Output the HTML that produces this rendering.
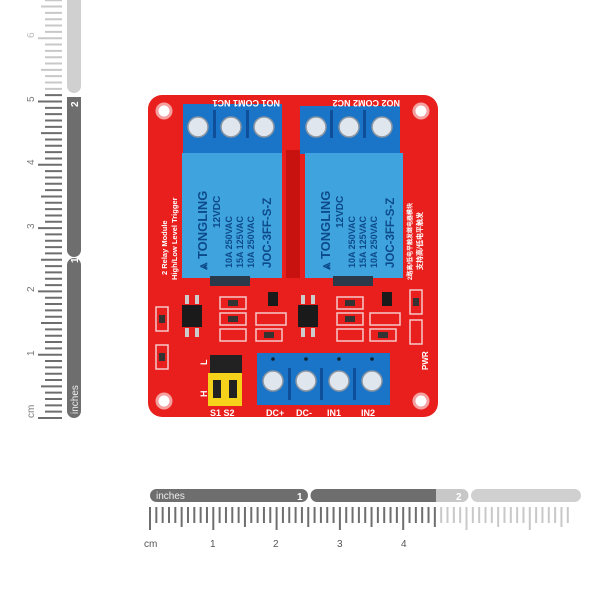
<!DOCTYPE html>
<html><head><meta charset="utf-8"><style>
html,body{margin:0;padding:0;background:#fff;width:613px;height:613px;overflow:hidden}
svg{display:block}
text{font-family:"Liberation Sans",sans-serif}
</style></head><body>
<svg id="s" width="613" height="613" viewBox="0 0 613 613" xmlns="http://www.w3.org/2000/svg">
<rect width="613" height="613" fill="#fff"/>
<rect x="150" y="489" width="158" height="13" rx="6.5" fill="#6e6e6e"/>
<text x="156" y="499" font-size="10" fill="#eee">inches</text>
<text x="297" y="500" font-size="10" font-weight="bold" fill="#fff">1</text>
<path d="M317,489 H436 V502 H317 A6.5,6.5 0 0 1 317,489Z" fill="#6e6e6e"/>
<path d="M436,489 H462 A6.5,6.5 0 0 1 462,502 H436Z" fill="#c8c8c8"/>
<text x="456" y="500" font-size="10" font-weight="bold" fill="#fff">2</text>
<rect x="471" y="489" width="110" height="13" rx="6.5" fill="#d0d0d0"/>
<g font-size="10" fill="#555">
<text x="144" y="547">cm</text><text x="210" y="547">1</text><text x="273" y="547">2</text><text x="337" y="547">3</text><text x="401" y="547">4</text>
</g>
<rect x="67" y="258" width="14" height="160" rx="7" fill="#6e6e6e"/>
<text transform="translate(78,414) rotate(-90)" font-size="10" fill="#eee">inches</text>
<text transform="translate(78,263) rotate(-90)" font-size="10" font-weight="bold" fill="#fff">1</text>
<path d="M67,250 V97 H81 V250 A7,7 0 0 1 67,250Z" fill="#6e6e6e"/>
<text transform="translate(78,107) rotate(-90)" font-size="10" font-weight="bold" fill="#fff">2</text>
<rect x="67" y="-20" width="14" height="113" rx="7" fill="#d0d0d0"/>
<g font-size="10" fill="#777">
<text transform="translate(34,418) rotate(-90)">cm</text>
<text transform="translate(34,356) rotate(-90)">1</text>
<text transform="translate(34,292) rotate(-90)">2</text>
<text transform="translate(34,229) rotate(-90)">3</text>
<text transform="translate(34,165) rotate(-90)">4</text>
<text transform="translate(34,102) rotate(-90)">5</text>
<text transform="translate(34,38) rotate(-90)" fill="#bbb">6</text>
</g>
<g id="ticks"></g>

<rect x="148" y="95" width="290" height="322" rx="14" fill="#e81f1c"/>
<g fill="#fff" stroke="#f4a0a0" stroke-width="3">
<circle cx="164" cy="111" r="7"/><circle cx="421" cy="111" r="7"/>
<circle cx="164" cy="401" r="7"/><circle cx="421" cy="401" r="7"/>
</g>
<rect x="286" y="150" width="14" height="128" fill="#c81210"/>
<g>
<rect x="183" y="104" width="99" height="50" fill="#1a74c8"/>
<rect x="300" y="106" width="100" height="48" fill="#1a74c8"/>
<g fill="#0f4f99"><rect x="213" y="110" width="3" height="28"/><rect x="246" y="110" width="3" height="28"/><rect x="330" y="110" width="3" height="28"/><rect x="363" y="110" width="3" height="28"/></g>
<g fill="#dfe6ee" stroke="#8a95a2" stroke-width="1.5">
<circle cx="198" cy="127" r="10"/><circle cx="231" cy="127" r="10"/><circle cx="264" cy="127" r="10"/>
<circle cx="316" cy="127" r="10"/><circle cx="349" cy="127" r="10"/><circle cx="382" cy="127" r="10"/>
</g>
</g>
<g font-size="9" font-weight="bold" fill="#fff">
<text transform="translate(280,100) rotate(180)">NO1 COM1 NC1</text>
<text transform="translate(400,100) rotate(180)">NO2 COM2 NC2</text>
</g>
<rect x="182" y="153" width="100" height="125" fill="#3fa3de"/>
<rect x="305" y="153" width="98" height="125" fill="#3fa3de"/>
<rect x="210" y="276" width="40" height="10" fill="#2a3a4a"/>
<rect x="333" y="276" width="40" height="10" fill="#2a3a4a"/>
<g fill="#0d4a8a" font-weight="bold">
<text transform="translate(207,270) rotate(-90)" font-size="13">⩓ TONGLING</text>
<text transform="translate(220,228) rotate(-90)" font-size="10">12VDC</text>
<text transform="translate(232,268) rotate(-90)" font-size="9">10A 250VAC</text>
<text transform="translate(243,268) rotate(-90)" font-size="9">15A 125VAC</text>
<text transform="translate(254,268) rotate(-90)" font-size="9">10A 250VAC</text>
<text transform="translate(271,268) rotate(-90)" font-size="11.5">JOC-3FF-S-Z</text>
<text transform="translate(330,270) rotate(-90)" font-size="13">⩓ TONGLING</text>
<text transform="translate(343,228) rotate(-90)" font-size="10">12VDC</text>
<text transform="translate(355,268) rotate(-90)" font-size="9">10A 250VAC</text>
<text transform="translate(366,268) rotate(-90)" font-size="9">15A 125VAC</text>
<text transform="translate(377,268) rotate(-90)" font-size="9">10A 250VAC</text>
<text transform="translate(394,268) rotate(-90)" font-size="11.5">JOC-3FF-S-Z</text>
</g>
<g fill="#fff" font-size="7.5" font-weight="bold">
<text transform="translate(167,275) rotate(-90)">2 Relay Module</text>
<text transform="translate(177,280) rotate(-90)">High/Low Level Trigger</text>
<text transform="translate(412,280) rotate(-90)" font-family="Noto Sans CJK SC,sans-serif" font-size="6">2路高/低电平触发继电器模块</text>
<text transform="translate(422,270) rotate(-90)" font-family="Noto Sans CJK SC,sans-serif" font-size="7">支持高/低电平触发</text>
<text transform="translate(428,370) rotate(-90)" font-size="8">PWR</text>
</g>
<g fill="#1a1a1a">
<rect x="182" y="305" width="20" height="22"/><rect x="298" y="305" width="20" height="22"/>
<rect x="268" y="292" width="10" height="14"/><rect x="382" y="292" width="10" height="14"/>
</g>
<g fill="#ccc"><rect x="185" y="295" width="4" height="9"/><rect x="195" y="295" width="4" height="9"/><rect x="185" y="328" width="4" height="9"/><rect x="195" y="328" width="4" height="9"/>
<rect x="301" y="295" width="4" height="9"/><rect x="311" y="295" width="4" height="9"/><rect x="301" y="328" width="4" height="9"/><rect x="311" y="328" width="4" height="9"/></g>
<g fill="#e81f1c" stroke="#f6c9c9" stroke-width="1.5">
<rect x="220" y="297" width="26" height="12"/><rect x="220" y="313" width="26" height="12"/><rect x="220" y="329" width="26" height="12"/>
<rect x="256" y="313" width="30" height="12"/><rect x="256" y="329" width="26" height="12"/>
<rect x="337" y="297" width="26" height="12"/><rect x="337" y="313" width="26" height="12"/><rect x="337" y="329" width="26" height="12"/>
<rect x="370" y="313" width="30" height="12"/><rect x="370" y="329" width="26" height="12"/>
<rect x="156" y="307" width="12" height="24"/><rect x="156" y="345" width="12" height="24"/>
<rect x="410" y="290" width="12" height="24"/><rect x="410" y="320" width="12" height="24"/>
</g>
<g fill="#333"><rect x="228" y="300" width="10" height="6"/><rect x="228" y="316" width="10" height="6"/><rect x="264" y="332" width="10" height="6"/>
<rect x="345" y="300" width="10" height="6"/><rect x="345" y="316" width="10" height="6"/><rect x="378" y="332" width="10" height="6"/>
<rect x="159" y="315" width="6" height="8"/><rect x="159" y="353" width="6" height="8"/><rect x="413" y="298" width="6" height="8"/></g>
<rect x="210" y="355" width="32" height="18" fill="#222"/>
<rect x="208" y="373" width="34" height="33" fill="#f7d21a"/>
<rect x="213" y="380" width="8" height="18" fill="#222"/><rect x="229" y="380" width="8" height="18" fill="#222"/>
<g fill="#fff" font-size="9" font-weight="bold">
<text x="210" y="416">S1 S2</text><text x="266" y="416">DC+</text><text x="296" y="416">DC-</text><text x="327" y="416">IN1</text><text x="361" y="416">IN2</text>
<text transform="translate(207,397) rotate(-90)">H</text><text transform="translate(207,365) rotate(-90)">L</text>
</g>
<rect x="257" y="353" width="133" height="52" fill="#1a74c8"/>
<g fill="#0f4f99"><rect x="288" y="368" width="3" height="32"/><rect x="320" y="368" width="3" height="32"/><rect x="353" y="368" width="3" height="32"/></g>
<g fill="#123"><circle cx="273" cy="359" r="1.8"/><circle cx="306" cy="359" r="1.8"/><circle cx="339" cy="359" r="1.8"/><circle cx="372" cy="359" r="1.8"/></g>
<g fill="#dfe6ee" stroke="#8a95a2" stroke-width="1.5">
<circle cx="273" cy="381" r="10"/><circle cx="306" cy="381" r="10"/><circle cx="339" cy="381" r="10"/><circle cx="372" cy="381" r="10"/>
</g>
</svg>
<script>
var g=document.getElementById('ticks'),ns='http://www.w3.org/2000/svg',mm=6.33;
function ln(x1,y1,x2,y2,c){var l=document.createElementNS(ns,'line');l.setAttribute('x1',x1);l.setAttribute('y1',y1);l.setAttribute('x2',x2);l.setAttribute('y2',y2);l.setAttribute('stroke',c);l.setAttribute('stroke-width',2);g.appendChild(l);}
for(var i=0;i<=66;i++){var x=150+i*mm;var L=i%10==0?530:(i%5==0?527:523);ln(x,507,x,L,x<=437?'#6e6e6e':'#c8c8c8');}
for(var i=0;i<=67;i++){var y=418-i*mm;if(y<0)break;var L=i%10==0?38:(i%5==0?41:45);ln(62,y,L,y,y>=95?'#6e6e6e':'#c8c8c8');}
</script>
</body></html>
